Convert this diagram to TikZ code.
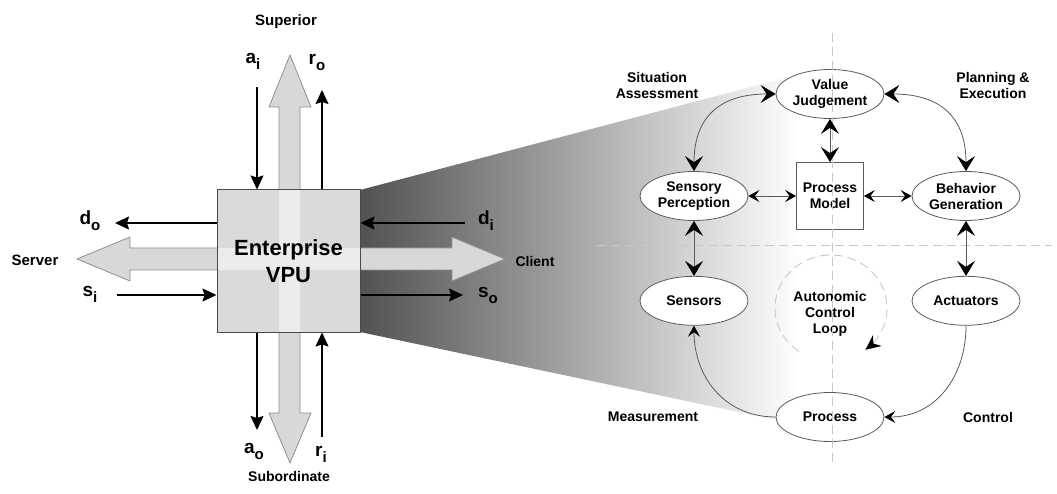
\documentclass[tikz,border=0pt]{standalone}
\usepackage{fontspec}
\setmainfont{Liberation Sans}
\usetikzlibrary{arrows.meta,positioning,shapes.geometric}
\definecolor{VPUFill}{HTML}{DADADA}
\definecolor{VPULine}{HTML}{4A4A4A}
\definecolor{FlowFill}{HTML}{D8D8D8}
\definecolor{FlowLine}{HTML}{8F8F8F}
\definecolor{FlowLight}{HTML}{ECECEC}
\definecolor{LoopGray}{HTML}{5A5A5A}
\definecolor{AxisGray}{HTML}{C8C8C8}
\newcommand{\sigl}[2]{#1\raisebox{-6pt}{\fontsize{15}{15}\selectfont #2}}

\begin{document}
\begin{tikzpicture}[x=1pt,y=-1pt,
    side/.style={font=\fontsize{14}{16}\selectfont\bfseries,align=center},
    sig/.style={font=\fontsize{19}{19}\selectfont\bfseries,inner sep=0pt},
    flow/.style={-{Stealth[length=14pt,width=13pt,inset=2pt]},line width=1.3pt},
    bigflow/.style={fill=FlowFill,draw=FlowLine,line width=0.8pt},
    vpubox/.style={draw=VPULine,line width=1pt,minimum width=143pt,minimum height=142pt,
      font=\fontsize{22}{27}\selectfont\bfseries,align=center},
    func/.style={ellipse,draw=LoopGray,fill=white,line width=0.8pt,minimum width=108pt,
      minimum height=49pt,inner sep=0pt,font=\fontsize{14}{16}\selectfont\bfseries,align=center},
    modelbox/.style={draw=LoopGray,fill=white,line width=0.8pt,minimum size=67pt,inner sep=0pt,
      font=\fontsize{14}{16}\selectfont\bfseries,align=center},
    link/.style={draw=LoopGray,line width=0.8pt},
    big/.style={>={Stealth[length=15pt,width=18pt,inset=6pt,color=black]}},
    small/.style={>={Stealth[length=11pt,width=12pt,inset=4.5pt,color=black]}},
    axis/.style={draw=AxisGray,line width=0.9pt,dash pattern=on 9pt off 5pt}
  ]
  \useasboundingbox (0,0) rectangle (1057,494);

  % zoom wedge towards the control loop
  \shade[left color=black!68,middle color=black!30,right color=white]
    (360,190) -- (800,74) -- (800,425) -- (360,332) -- cycle;

  % thick two-way flows
  \filldraw[bigflow] (290,55) -- (311,107) -- (300,107) -- (300,413) -- (311,413) -- (290,463)
    -- (269,413) -- (279,413) -- (279,107) -- (269,107) -- cycle;
  \filldraw[bigflow] (77,259) -- (130,237) -- (130,248) -- (452,248) -- (452,237) -- (505,259)
    -- (452,281) -- (452,270) -- (130,270) -- (130,281) -- cycle;

  % the enterprise VPU
  \fill[VPUFill] (217,190) rectangle (360,332);
  \fill[FlowLight] (279,190) rectangle (300,332);
  \fill[FlowLight] (217,248) rectangle (360,270);
  \node[vpubox] (vpu) at (288.5,261) {Enterprise\\VPU};

  \node[side,font=\fontsize{15}{17}\selectfont\bfseries] (sup) at (286,22) {Superior};
  \node[side] (sub) at (289,476) {Subordinate};
  \node[side,font=\fontsize{15}{17}\selectfont\bfseries] (srv) at (35,260) {Server};
  \node[side] (cli) at (535,261) {Client};

  % signal labels and arrows
  \node[sig] (ai) at (253,61) {\sigl{a}{i}};
  \node[sig] (ro) at (317,62) {\sigl{r}{o}};
  \node[sig] (do) at (90,221) {\sigl{d}{o}};
  \node[sig] (si) at (90,294) {\sigl{s}{i}};
  \node[sig] (di) at (486,221) {\sigl{d}{i}};
  \node[sig] (so) at (488,295) {\sigl{s}{o}};
  \node[sig] (ao) at (254,451) {\sigl{a}{o}};
  \node[sig] (ri) at (321,454) {\sigl{r}{i}};

  \coordinate (ai0) at (257,87);
  \coordinate (ro0) at (322,90);
  \coordinate (do0) at (115,223);
  \coordinate (si0) at (117,295);
  \coordinate (di0) at (465,223);
  \coordinate (so0) at (463,295);
  \coordinate (ao0) at (257,430);
  \coordinate (ri0) at (322,437);
  \draw[flow] (ai0) -- (ai0 |- vpu.north);
  \draw[flow] (ro0 |- vpu.north) -- (ro0);
  \draw[flow] (do0 -| vpu.west) -- (do0);
  \draw[flow] (si0) -- (si0 -| vpu.west);
  \draw[flow] (di0) -- (di0 -| vpu.east);
  \draw[flow] (so0 -| vpu.east) -- (so0);
  \draw[flow] (ao0 |- vpu.south) -- (ao0);
  \draw[flow] (ri0) -- (ri0 |- vpu.south);

  % autonomic control loop
  \node[func] (vj) at (830,94) {Value\\Judgement};
  \node[func] (sp) at (694,196) {Sensory\\Perception};
  \node[func] (bg) at (966,196) {Behavior\\Generation};
  \node[modelbox] (pm) at (830,196) {Process\\Model};
  \node[func,below=55pt of sp] (sens) {Sensors};
  \node[func,below=55pt of bg] (act) {Actuators};
  \node[func] (proc) at (830,417) {Process};
  \node[side] (loop) at (830,314) {Autonomic\\Control\\Loop};

  \node[side] (sa) at (657,85) {Situation\\Assessment};
  \node[side] (pe) at (993,85) {Planning \&\\Execution};
  \node[side] (meas) at (653,417) {Measurement};
  \node[side] (ctrl) at (988,417) {Control};

  \draw[axis] (832,33) -- (832,465);
  \draw[axis] (597,245) -- (1052,245);
  \draw[axis,-{Stealth[length=15pt,width=14pt,inset=5pt,color=black]}]
    plot[domain=125:412,samples=80] ({831+56*cos(\x)},{308+53*sin(\x)});

  \draw[link,big,<->] (vj.west) .. controls +(-60,0) and +(0,-50) .. (sp.north);
  \draw[link,big,<->] (vj.east) .. controls +(60,0) and +(0,-50) .. (bg.north);
  \draw[link,big,<->] (vj) -- (pm);
  \draw[link,small,<->] (sp) -- (pm);
  \draw[link,small,<->] (pm) -- (bg);
  \draw[link,big,<->] (sp) -- (sens);
  \draw[link,big,<->] (bg) -- (act);
  \draw[link,small,->] (proc.west) .. controls +(-52,0) and +(0,50) .. (sens.south);
  \draw[link,small,->] (act.south) .. controls +(0,50) and +(52,0) .. (proc.east);
\end{tikzpicture}
\end{document}
